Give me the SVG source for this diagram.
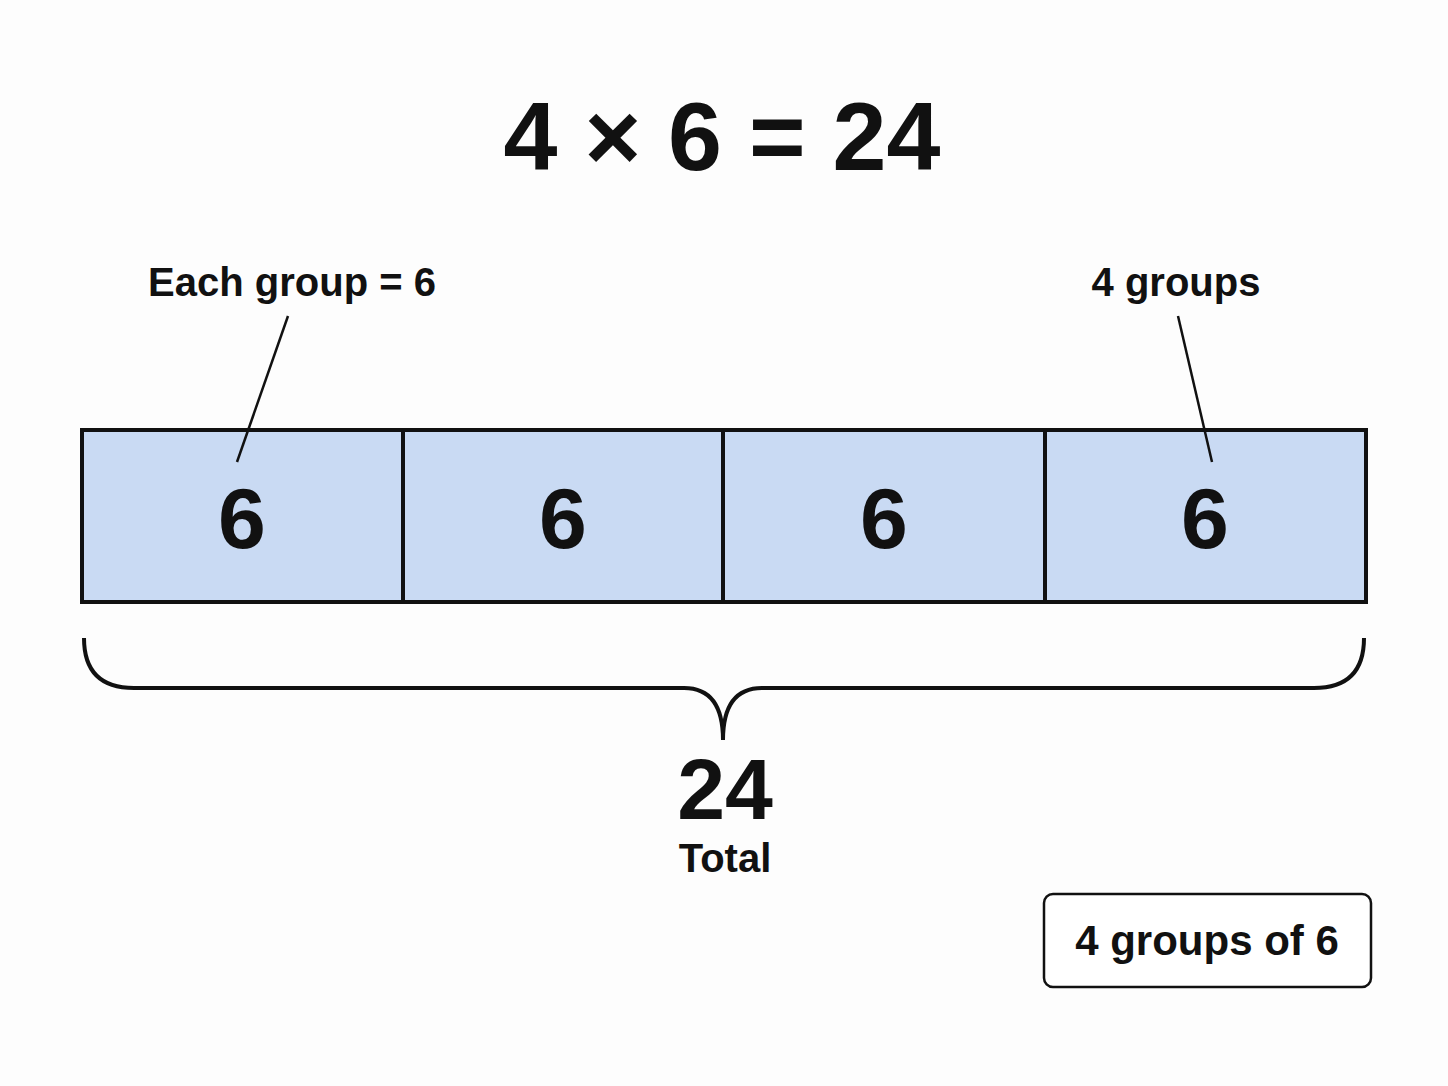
<svg xmlns="http://www.w3.org/2000/svg" width="1448" height="1086" viewBox="0 0 1448 1086">
<style>
text{font-family:"Liberation Sans",Arial,sans-serif;font-weight:bold;fill:#111;text-anchor:middle}
.cell{fill:#c9daf3;stroke:#111;stroke-width:4}
.ln{stroke:#111;stroke-width:2.5;fill:none}
</style>
<rect width="1448" height="1086" fill="#fdfdfd"/>
<g id="title"><text x="722" y="170" font-size="97">4 × 6 = 24</text></g>
<g id="bar">
<rect class="cell" x="82" y="430" width="321" height="172"/>
<rect class="cell" x="403" y="430" width="320" height="172"/>
<rect class="cell" x="723" y="430" width="322" height="172"/>
<rect class="cell" x="1045" y="430" width="321" height="172"/>
<text x="242" y="548" font-size="86">6</text>
<text x="563" y="548" font-size="86">6</text>
<text x="884" y="548" font-size="86">6</text>
<text x="1205" y="548" font-size="86">6</text>
</g>
<g id="label-each"><text x="292" y="296" font-size="40">Each group = 6</text></g>
<g id="label-groups"><text x="1176" y="296" font-size="40">4 groups</text></g>
<g id="connectors">
<line class="ln" x1="288" y1="316" x2="237" y2="462"/>
<line class="ln" x1="1178" y1="316" x2="1212" y2="462"/>
<path d="M84 638 Q84 688 134 688 L684 688 Q723 688 723 740 Q723 688 762 688 L1314 688 Q1364 688 1364 638" fill="none" stroke="#111" stroke-width="4"/>
</g>
<g id="total">
<text x="725" y="819" font-size="86">24</text>
<text x="725" y="872" font-size="40">Total</text>
</g>
<g id="note">
<rect x="1044" y="894" width="327" height="93" rx="9" fill="#fff" stroke="#111" stroke-width="2.5"/>
<text x="1207" y="955" font-size="42">4 groups of 6</text>
</g>
</svg>
